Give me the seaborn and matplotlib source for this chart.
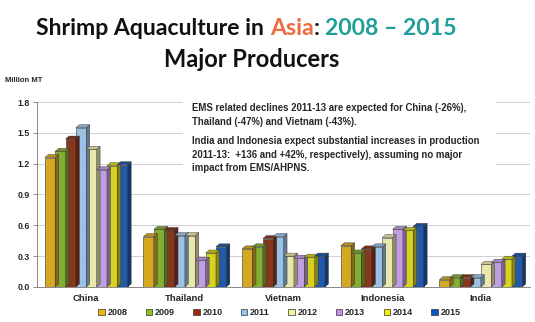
import numpy as np
import pandas as pd
import matplotlib
matplotlib.use("Agg")
import matplotlib.pyplot as plt
from matplotlib.patches import Polygon
from matplotlib.colors import to_rgb
import seaborn as sns

countries = ["China", "Thailand", "Vietnam", "Indonesia", "India"]
years = ["2008", "2009", "2010", "2011", "2012", "2013", "2014", "2015"]
prod_2008 = [1.26, 0.49, 0.37, 0.40, 0.07]
prod_2009 = [1.32, 0.56, 0.39, 0.33, 0.09]
prod_2010 = [1.44, 0.55, 0.47, 0.37, 0.09]
prod_2011 = [1.55, 0.50, 0.49, 0.39, 0.09]
prod_2012 = [1.34, 0.50, 0.30, 0.48, 0.22]
prod_2013 = [1.14, 0.26, 0.28, 0.56, 0.24]
prod_2014 = [1.18, 0.33, 0.29, 0.55, 0.27]
prod_2015 = [1.19, 0.39, 0.30, 0.59, 0.30]
y_ticks = [0.0, 0.3, 0.6, 0.9, 1.2, 1.5, 1.8]

series = [prod_2008, prod_2009, prod_2010, prod_2011,
          prod_2012, prod_2013, prod_2014, prod_2015]
palette = ["#F2B705", "#8CC21E", "#9A2C0B", "#8EC3F2",
           "#F4F0A2", "#C191EF", "#F4F000", "#0A55C2"]

rows = []
for yr, vals in zip(years, series):
    for c, v in zip(countries, vals):
        rows.append({"Country": c, "Year": yr, "Production": v})
df = pd.DataFrame(rows)

sns.set_theme(style="white")
plt.rcParams["font.family"] = ["Liberation Sans", "DejaVu Sans"]

fig = plt.figure(figsize=(5.35, 3.22), dpi=100)
ax = fig.add_axes([0.069, 0.109, 0.922, 0.574])

sns.barplot(data=df, x="Country", y="Production", hue="Year",
            palette=palette, width=0.84, gap=0.0, ax=ax,
            edgecolor="#333333", linewidth=0.4, legend=False, zorder=3)

ax.set_ylim(0, 1.8)
ax.set_xlim(-0.5, 4.5)
ax.set_yticks(y_ticks)
ax.set_yticklabels([f"{t:.1f}" for t in y_ticks], fontsize=6.3, fontweight="bold")
ax.set_xlabel("")
ax.set_ylabel("")
ax.tick_params(axis="x", labelsize=6.8, length=0, pad=5)
for lab in ax.get_xticklabels():
    lab.set_fontweight("bold")
ax.tick_params(axis="y", length=3, width=0.6, color="#777777", pad=2, left=True)
ax.grid(axis="y", color="#d0d0d0", linewidth=0.7, zorder=0)
for s in ["top", "right"]:
    ax.spines[s].set_visible(False)
ax.spines["left"].set_color("#888888")
ax.spines["bottom"].set_color("#888888")
ax.spines["left"].set_linewidth(0.7)
ax.spines["bottom"].set_linewidth(0.7)

# pseudo-3D top and side faces derived from each bar patch
fig.canvas.draw()
inv = ax.transData.inverted()
dx_pix, dy_pix = 3.5, 3.0
for p in list(ax.patches):
    x0, w, h = p.get_x(), p.get_width(), p.get_height()
    if h <= 0:
        continue
    col = np.array(to_rgb(p.get_facecolor()))
    (x_a, y_a) = ax.transData.transform((x0, 0))
    (x_b, y_b) = ax.transData.transform((x0 + w, h))
    top = [(x_a, y_b), (x_b, y_b), (x_b + dx_pix, y_b + dy_pix), (x_a + dx_pix, y_b + dy_pix)]
    side = [(x_b, y_a), (x_b + dx_pix, y_a + dy_pix), (x_b + dx_pix, y_b + dy_pix), (x_b, y_b)]
    for poly, shade in ((side, 0.62), (top, 0.85)):
        pts = inv.transform(poly)
        ax.add_patch(Polygon(pts, closed=True, facecolor=col * shade,
                             edgecolor="#333333", linewidth=0.3, zorder=3))

# legend along the bottom
handles = [plt.Rectangle((0, 0), 1, 1, facecolor=c, edgecolor="#333333", linewidth=0.5)
           for c in palette]
fig.legend(handles, years, loc="center", bbox_to_anchor=(0.522, 0.028), ncol=8,
           frameon=False, prop={"size": 6.5, "weight": "bold"},
           handlelength=0.7, handleheight=0.7, handletextpad=0.3, columnspacing=2.05)

fig.text(0.01, 0.75, "Million MT", fontsize=5.5, fontweight="bold", ha="left", va="center")

# annotation box
note = ("EMS related declines 2011-13 are expected for China (-26%),\n"
        "Thailand (-47%) and Vietnam (-43%).")
note2 = ("India and Indonesia expect substantial increases in production\n"
         "2011-13:  +136 and +42%, respectively), assuming no major\n"
         "impact from EMS/AHPNS.")
fig.patches.append(plt.Rectangle((0.342, 0.44), 0.585, 0.265, transform=fig.transFigure,
                                 facecolor="white", edgecolor="none", zorder=5))
fig.text(0.359, 0.643, note, fontsize=6.9, fontweight="bold", ha="left", va="center",
         linespacing=1.45, zorder=6)
fig.text(0.359, 0.519, note2, fontsize=6.9, fontweight="bold", ha="left", va="center",
         linespacing=1.45, zorder=6)

# two-line title with coloured words, first line laid out piece by piece
title_font = ["Lato", "DejaVu Sans"]
pieces = [("Shrimp Aquaculture in ", "#111111"), ("Asia", "#EE6A42"),
          (": ", "#111111"), ("2008 \u2013 2015", "#1E9F98")]
renderer = fig.canvas.get_renderer()
texts = []
x = 0.0
for s, c in pieces:
    t = fig.text(x, 0.913, s, fontsize=16.6, fontweight="bold", color=c,
                 family=title_font, ha="left", va="center")
    fig.canvas.draw()
    bb = t.get_window_extent(renderer=renderer)
    texts.append((t, bb.width))
    x += bb.width / fig.bbox.width
fig.canvas.draw()
x_left = texts[0][0].get_window_extent(renderer=renderer).x0
x_right = texts[-1][0].get_window_extent(renderer=renderer).x1
shift = (0.461 * fig.bbox.width - (x_left + x_right) / 2) / fig.bbox.width
for t, _ in texts:
    t.set_x(t.get_position()[0] + shift)
fig.text(0.47, 0.815, "Major Producers", fontsize=17, fontweight="bold", color="#111111",
         family=title_font, ha="center", va="center")

fig.savefig("out.png", dpi=100)
